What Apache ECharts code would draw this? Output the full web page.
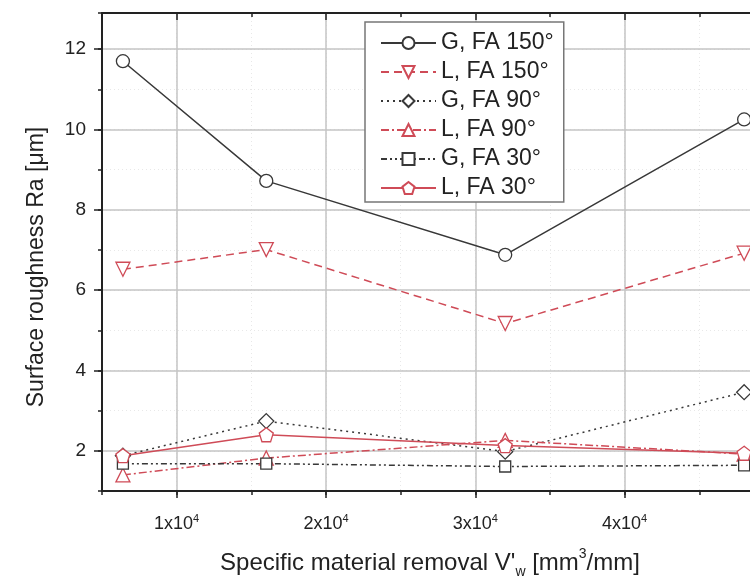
<!DOCTYPE html>
<html>
<head>
<meta charset="utf-8">
<script src="https://cdn.jsdelivr.net/npm/echarts@6/dist/echarts.min.js"></script>
<style>html,body{margin:0;padding:0;background:#fff}</style>
</head>
<body>
<div id="myChart" style="width:750px;height:577px"></div>
<script>
  // specific material removal V'w [mm3/mm]
  var removal = [6400, 16000, 32000, 48000]
  // surface roughness Ra [um]
  var g150 = [11.70, 8.72, 6.88, 10.25]
  var l150 = [6.52, 7.01, 5.17, 6.92]
  var g90 = [1.88, 2.74, 1.98, 3.46]
  var l90 = [1.40, 1.82, 2.26, 1.92]
  var g30 = [1.68, 1.68, 1.61, 1.64]
  var l30 = [1.88, 2.40, 2.13, 1.94]
  var seriesNames = ['G, FA 150°', 'L, FA 150°', 'G, FA 90°', 'L, FA 90°', 'G, FA 30°', 'L, FA 30°']

  var xMin = 5000, xMax = 50000 // axis is cut off on the right
  var yMin = 1, yMax = 12.9

  var font = 'Arial, "Liberation Sans", sans-serif'
  var black = '#383838'
  var red = '#cf4b57'
  var pentagon = 'path://M0,-10 L9.51,-3.09 L5.88,8.09 L-5.88,8.09 L-9.51,-3.09 Z'

  function pairs(ys) {
    return removal.map(function (x, i) { return [x, ys[i]] })
  }

  function makeLine(name, ys, color, dash, symbol, size, rotate) {
    return {
      name: name,
      type: 'line',
      data: pairs(ys),
      xAxisIndex: 0,
      yAxisIndex: 0,
      symbol: symbol,
      symbolSize: size,
      symbolRotate: rotate || 0,
      lineStyle: { color: color, width: 1.5, type: dash },
      itemStyle: { color: '#fff', borderColor: color, borderWidth: 1.3 },
      emphasis: { disabled: true },
      z: 3
    }
  }

  var myChart = echarts.init(document.getElementById('myChart'))
  var option = {
    animation: false,
    backgroundColor: '#fff',
    textStyle: { fontFamily: font },
    // plot runs past the right edge of the picture
    grid: { left: 102, top: 13, width: 672, bottom: 86, containLabel: false, outerBoundsMode: 'none' },
    legend: {
      orient: 'vertical',
      left: 365,
      top: 22,
      data: seriesNames,
      itemWidth: 55,
      itemHeight: 15,
      itemGap: 5,
      padding: [9, 10, 2, 15],
      borderColor: '#777',
      borderWidth: 1.5,
      backgroundColor: '#fff',
      textStyle: { fontSize: 23, color: '#222', fontFamily: font, lineHeight: 24 }
    },
    xAxis: [{
      // main bottom axis
      type: 'value', position: 'bottom', min: xMin, max: xMax, splitNumber: 5, z: 1,
      axisLine: { lineStyle: { color: '#222', width: 2 } },
      axisTick: { length: 7, lineStyle: { color: '#222', width: 1.5 } },
      axisLabel: {
        margin: 22, showMinLabel: false, showMaxLabel: false, color: '#222',
        formatter: function (v) { return '{m|' + (v / 10000) + 'x10}{e|4}' },
        rich: {
          m: { fontSize: 18, lineHeight: 22, fontFamily: font, color: '#222' },
          e: { fontSize: 11, lineHeight: 22, verticalAlign: 'top', fontFamily: font, color: '#222' }
        }
      },
      splitLine: { show: true, lineStyle: { color: '#c4c4c4', width: 1.5 } },
      name: "Specific material removal V'{sub|w} [mm{sup|3}/mm]",
      nameLocation: 'middle',
      nameGap: 56,
      nameTextStyle: {
        fontSize: 24, color: '#222', fontFamily: font, lineHeight: 32, padding: [0, 16, 0, 0],
        rich: {
          sub: { fontSize: 14, lineHeight: 32, verticalAlign: 'bottom', fontFamily: font, color: '#222' },
          sup: { fontSize: 14, lineHeight: 32, verticalAlign: 'top', fontFamily: font, color: '#222' }
        }
      }
    }, {
      // minor ticks + faint minor grid at bottom
      type: 'value', position: 'bottom', min: xMin, max: xMax, interval: 5000, z: 0,
      axisLine: { show: false },
      axisTick: { length: 4, lineStyle: { color: '#222', width: 1.5 } },
      axisLabel: { show: false },
      splitLine: { show: true, lineStyle: { color: '#e8e8e8', width: 1, type: [1, 3] } }
    }, {
      // top frame
      type: 'value', position: 'top', min: xMin, max: xMax, splitNumber: 5, z: 1,
      axisLine: { lineStyle: { color: '#222', width: 2 } },
      axisTick: { inside: true, length: 7, lineStyle: { color: '#222', width: 1.5 } },
      axisLabel: { show: false },
      splitLine: { show: false }
    }, {
      type: 'value', position: 'top', min: xMin, max: xMax, interval: 5000, z: 1,
      axisLine: { show: false },
      axisTick: { inside: true, length: 4, lineStyle: { color: '#222', width: 1.5 } },
      axisLabel: { show: false },
      splitLine: { show: false }
    }],
    yAxis: [{
      type: 'value', position: 'left', min: yMin, max: yMax, splitNumber: 5, z: 1,
      axisLine: { show: true, lineStyle: { color: '#222', width: 2 } },
      axisTick: { show: true, length: 8, lineStyle: { color: '#222', width: 1.5 } },
      axisLabel: { margin: 16, fontSize: 19, color: '#222', fontFamily: font, showMinLabel: false, showMaxLabel: false },
      splitLine: { show: true, lineStyle: { color: '#c4c4c4', width: 1.5 } },
      name: 'Surface roughness Ra [μm]',
      nameLocation: 'middle',
      nameGap: 54,
      nameTextStyle: { fontSize: 23, color: '#222', fontFamily: font, padding: [0, 30, 0, 0] }
    }, {
      // minor ticks + faint minor grid
      type: 'value', position: 'left', min: yMin, max: yMax, interval: 1, z: 0,
      axisLine: { show: false },
      axisTick: { show: true, length: 4, lineStyle: { color: '#222', width: 1.5 } },
      axisLabel: { show: false },
      splitLine: { show: true, lineStyle: { color: '#e8e8e8', width: 1, type: [1, 3] } }
    }],
    series: [
      makeLine(seriesNames[0], g150, black, 'solid', 'circle', 13),
      makeLine(seriesNames[1], l150, red, [8, 5], 'triangle', 14, 180),
      makeLine(seriesNames[2], g90, black, [2, 4], 'diamond', 15),
      makeLine(seriesNames[3], l90, red, [8, 3, 2, 3], 'triangle', 14),
      makeLine(seriesNames[4], g30, black, [6, 3, 2, 3, 2, 3], 'rect', 11),
      makeLine(seriesNames[5], l30, red, 'solid', pentagon, 14)
    ]
  }
  myChart.setOption(option)
</script>
</body>
</html>
